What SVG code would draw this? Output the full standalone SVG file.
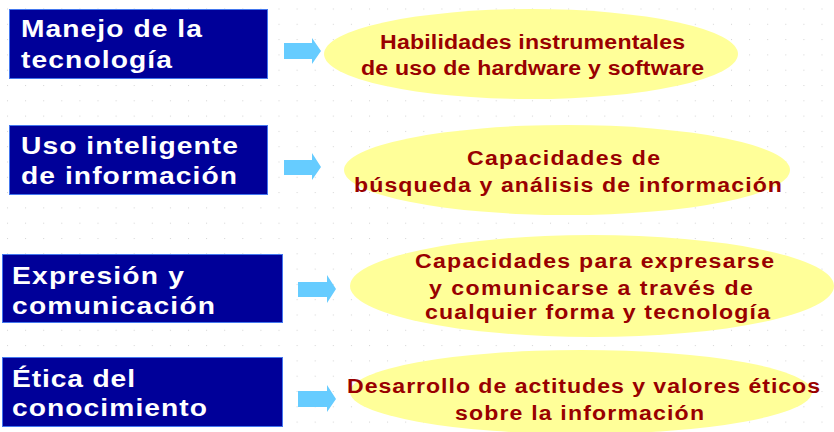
<svg xmlns="http://www.w3.org/2000/svg" width="834" height="432" viewBox="0 0 834 432">
<style>
.box{fill:#000099;stroke:#4477ee;stroke-width:1}
.bt{font-family:"Liberation Sans",Arial,sans-serif;font-weight:bold;font-size:23.5px;fill:#ffffff}
.el{fill:#ffff99}
.et{font-family:"Liberation Sans",Arial,sans-serif;font-weight:bold;font-size:21px;fill:#990000}
.arr{fill:#66ccff}
</style>
<defs>
<pattern id="grid" patternUnits="userSpaceOnUse" x="7" y="8.5" width="18.1" height="15.3">
<rect x="0" y="0" width="1" height="1" fill="#d4d4d4"/>
</pattern>
</defs>
<rect width="834" height="432" fill="#ffffff"/>
<rect width="834" height="432" fill="url(#grid)"/>

<g id="n1">
<rect class="box" x="9.5" y="9.5" width="258" height="69"/>
<text class="bt" transform="scale(1.2 1)" x="17.5" y="37" textLength="150.8" lengthAdjust="spacing">Manejo de la</text>
<text class="bt" transform="scale(1.2 1)" x="17.5" y="68" textLength="125.8" lengthAdjust="spacing">tecnología</text>
</g>
<g id="n2">
<rect class="box" x="9.5" y="125.5" width="258" height="69"/>
<text class="bt" transform="scale(1.2 1)" x="17.5" y="154" textLength="180.8" lengthAdjust="spacing">Uso inteligente</text>
<text class="bt" transform="scale(1.2 1)" x="17.5" y="184" textLength="180" lengthAdjust="spacing">de información</text>
</g>
<g id="n3">
<rect class="box" x="2.5" y="254.5" width="280" height="68"/>
<text class="bt" transform="scale(1.2 1)" x="10" y="284" textLength="143.3" lengthAdjust="spacing">Expresión y</text>
<text class="bt" transform="scale(1.2 1)" x="10" y="314" textLength="169.2" lengthAdjust="spacing">comunicación</text>
</g>
<g id="n4">
<rect class="box" x="2.5" y="357.5" width="280" height="69"/>
<text class="bt" transform="scale(1.2 1)" x="10" y="387" textLength="102.5" lengthAdjust="spacing">Ética del</text>
<text class="bt" transform="scale(1.2 1)" x="10" y="416" textLength="162.5" lengthAdjust="spacing">conocimiento</text>
</g>

<g id="e1">
<ellipse class="el" cx="531" cy="54" rx="207" ry="45"/>
<text class="et" transform="scale(1.1 1)" x="345.5" y="49" textLength="277.3" lengthAdjust="spacing">Habilidades instrumentales</text>
<text class="et" transform="scale(1.1 1)" x="328.2" y="75" textLength="311.8" lengthAdjust="spacing">de uso de hardware y software</text>
</g>
<g id="e2">
<ellipse class="el" cx="567" cy="170" rx="223" ry="45"/>
<text class="et" transform="scale(1.1 1)" x="424.5" y="165" textLength="175.5" lengthAdjust="spacing">Capacidades de</text>
<text class="et" transform="scale(1.1 1)" x="321.8" y="192" textLength="389.1" lengthAdjust="spacing">búsqueda y análisis de información</text>
</g>
<g id="e3">
<ellipse class="el" cx="592" cy="286" rx="242" ry="51"/>
<text class="et" transform="scale(1.1 1)" x="377.3" y="268" textLength="326.4" lengthAdjust="spacing">Capacidades para expresarse</text>
<text class="et" transform="scale(1.1 1)" x="390" y="295" textLength="294.5" lengthAdjust="spacing">y comunicarse a través de</text>
<text class="et" transform="scale(1.1 1)" x="386.4" y="319" textLength="313.6" lengthAdjust="spacing">cualquier forma y tecnología</text>
</g>
<g id="e4">
<ellipse class="el" cx="581" cy="392" rx="231" ry="42"/>
<text class="et" transform="scale(1.1 1)" x="315.5" y="393" textLength="430" lengthAdjust="spacing">Desarrollo de actitudes y valores éticos</text>
<text class="et" transform="scale(1.1 1)" x="413.6" y="420" textLength="226.4" lengthAdjust="spacing">sobre la información</text>
</g>

<g id="connectors">
<polygon class="arr" points="284,43 312,43 312,38 321,51 312,64 312,59 284,59"/>
<polygon class="arr" points="284,160 312,160 312,153 321,167 312,180 312,175 284,175"/>
<polygon class="arr" points="298,282 327,282 327,275 336,289 327,303 327,297 298,297"/>
<polygon class="arr" points="298,391 327,391 327,385 336,399 327,412 327,407 298,407"/>
</g>
</svg>
